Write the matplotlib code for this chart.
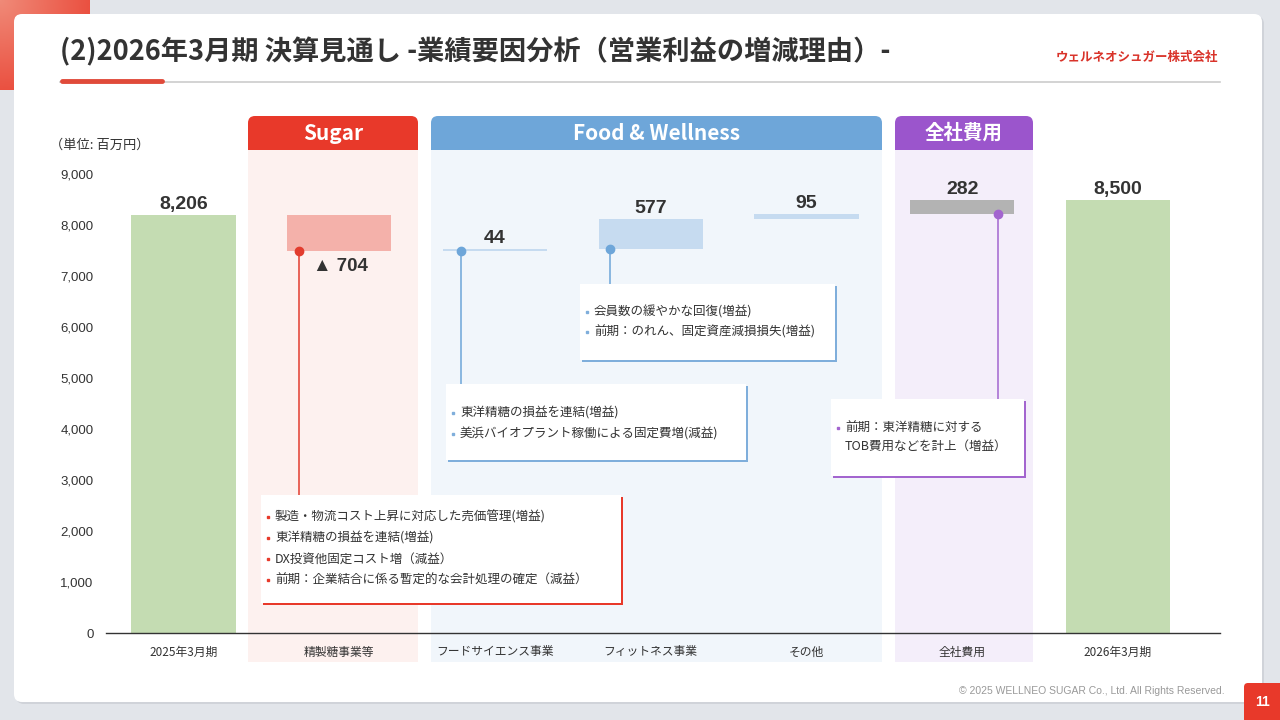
import matplotlib
matplotlib.use("Agg")
import matplotlib.pyplot as plt
import numpy as np
from matplotlib.patches import Rectangle, FancyBboxPatch

plt.rcParams["font.family"] = ["Liberation Sans", "Noto Sans CJK JP", "DejaVu Sans"]
JP = ["Noto Sans CJK JP", "DejaVu Sans"]

# --- data ---
categories = ["2025年3月期", "精製糖事業等", "フードサイエンス事業", "フィットネス事業",
              "その他", "全社費用", "2026年3月期"]
start_value = 8206
end_value = 8500
changes = [-704, 44, 577, 95, 282]
value_labels = ["8,206", "▲ 704", "44", "577", "95", "282", "8,500"]
bar_colors = ["#C4DCB2", "#F4B1AA", "#C6DBF0", "#C6DBF0", "#C6DBF0", "#B3B3B3", "#C4DCB2"]
y_ticks = list(range(0, 9001, 1000))

title = "(2)2026年3月期 決算見通し -業績要因分析（営業利益の増減理由）-"
company = "ウェルネオシュガー株式会社"

sugar_notes = ["製造・物流コスト上昇に対応した売価管理(増益)",
               "東洋精糖の損益を連結(増益)",
               "DX投資他固定コスト増（減益）",
               "前期：企業結合に係る暫定的な会計処理の確定（減益）"]
food_notes = ["東洋精糖の損益を連結(増益)",
              "美浜バイオプラント稼働による固定費増(減益)"]
fitness_notes = ["会員数の緩やかな回復(増益)",
                 "前期：のれん、固定資産減損損失(増益)"]
corp_notes = ["前期：東洋精糖に対する", "TOB費用などを計上（増益）"]

RED = "#E8392A"
BLUE = "#6EA6D9"
PURPLE = "#9B55CC"

# waterfall levels
levels = start_value + np.cumsum(changes)
prev = np.concatenate([[start_value], levels[:-1]])
bottoms = [0] + list(np.minimum(prev, levels)) + [0]
heights = [start_value] + list(np.abs(changes)) + [end_value]
tops = [b + h for b, h in zip(bottoms, heights)]

fig = plt.figure(figsize=(12.8, 7.2), dpi=100)
fig.patch.set_facecolor("#E2E5EA")

# background layer in pixel coordinates
bg = fig.add_axes([0, 0, 1, 1], zorder=0)
bg.set_xlim(0, 1280)
bg.set_ylim(720, 0)
bg.axis("off")

grad = np.linspace(0, 1, 90)
gx, gy = np.meshgrid(grad, grad)
bg.imshow(np.sqrt((gx ** 2 + gy ** 2) / 2), extent=(0, 90, 90, 0),
          cmap=matplotlib.colors.LinearSegmentedColormap.from_list("r", ["#F08A78", "#E8392A"]),
          aspect="auto", zorder=0)
bg.add_patch(FancyBboxPatch((16, 16), 1248, 688, boxstyle="round,pad=0,rounding_size=8",
                            fc="#D0D3D9", ec="none", zorder=1))
bg.add_patch(FancyBboxPatch((14, 14), 1248, 688, boxstyle="round,pad=0,rounding_size=8",
                            fc="white", ec="none", zorder=1))

bg.text(60, 52, title, family=JP, fontsize=19.6, fontweight="bold", color="#333333",
        va="center", ha="left")
bg.text(1218, 57, company, family=JP, fontsize=9, fontweight="bold", color="#D9332A",
        va="center", ha="right")
bg.plot([60, 1220], [82, 82], color="#CCCCCC", lw=1.2, zorder=2)
bg.plot([62, 162], [81, 81], color="#E04A3A", lw=3.5, solid_capstyle="round", zorder=3)

panels = [("Sugar", 248, 418, RED, "#FDF1EF", 15),
          ("Food & Wellness", 431, 882, BLUE, "#F1F6FB", 15),
          ("全社費用", 895, 1033, PURPLE, "#F4EEFA", 14)]
for name, x0, x1, hc, pc, fs in panels:
    bg.add_patch(Rectangle((x0, 150), x1 - x0, 512, fc=pc, ec="none", zorder=2))
    bg.add_patch(FancyBboxPatch((x0, 116), x1 - x0, 34, boxstyle="round,pad=0,rounding_size=7",
                                fc=hc, ec="none", zorder=2))
    bg.add_patch(Rectangle((x0, 134), x1 - x0, 16, fc=hc, ec="none", zorder=2))
    bg.text((x0 + x1) / 2, 133, name, family=JP, fontsize=fs, fontweight="bold",
            color="white", ha="center", va="center", zorder=3)

bg.text(50, 145, "（単位: 百万円）", family=JP, fontsize=9.5, color="#333333", va="center")
bg.text(1225, 691, "© 2025 WELLNEO SUGAR Co., Ltd. All Rights Reserved.", fontsize=7.5,
        color="#999999", ha="right", va="center")
bg.add_patch(FancyBboxPatch((1244, 683), 40, 40, boxstyle="round,pad=0,rounding_size=4",
                            fc=RED, ec="none", zorder=3))
bg.text(1262, 702, "11", fontsize=10, fontweight="bold", color="white",
        ha="center", va="center", zorder=4)

# chart layer
ax = fig.add_axes([106 / 1280, 1 - 633 / 720, (1220 - 106) / 1280, 458.5 / 720], zorder=1)
ax.set_facecolor("none")
x = np.arange(len(categories))
ax.bar(x, heights, bottom=bottoms, width=0.668, color=bar_colors, zorder=2)
ax.set_xlim(-0.4976, 6.655)
ax.set_ylim(0, 9000)
ax.set_yticks(y_ticks)
ax.set_yticklabels([f"{v:,}" for v in y_ticks], fontsize=9.5, color="#333333")
ax.set_xticks(x)
ax.set_xticklabels(categories, family=JP, fontsize=8.5, color="#333333")
ax.tick_params(axis="x", length=0, pad=9)
ax.tick_params(axis="y", length=0, pad=9)
for s in ["top", "right", "left"]:
    ax.spines[s].set_visible(False)
ax.spines["bottom"].set_color("#333333")
ax.spines["bottom"].set_linewidth(1.0)

for i, lab in enumerate(value_labels):
    if lab.startswith("▲"):
        ax.text(x[i] - 0.17, bottoms[i] - 150, lab, fontsize=13.5, fontweight="bold",
                family=["Liberation Sans", "Noto Sans CJK JP"], color="#333333",
                ha="left", va="top")
    else:
        ax.text(x[i], tops[i] + 40, lab, fontsize=14, fontweight="bold", color="#333333",
                ha="center", va="bottom")

# connectors from bars to note boxes
px2val = 9000 / 458.5
def yval(py):
    return (633 - py) * px2val

connectors = [(1, -0.26, bottoms[1], yval(495), "#E23C2E"),
              (2, -0.22, bottoms[2], yval(384), BLUE),
              (3, -0.26, bottoms[3], yval(284), BLUE),
              (5, 0.23, bottoms[5], yval(399), "#A365CF")]
for i, dx, y0, y1, c in connectors:
    ax.plot([x[i] + dx, x[i] + dx], [y0, y1], color=c, lw=1.1, zorder=3, clip_on=False)
    ax.plot(x[i] + dx, y0, "o", color=c, ms=6, zorder=4)

# note boxes in pixel coordinates
fg = fig.add_axes([0, 0, 1, 1], zorder=2)
fg.set_xlim(0, 1280)
fg.set_ylim(720, 0)
fg.axis("off")

boxes = [(261, 495, 621, 603, RED, sugar_notes, [517, 538, 559, 580], True),
         (446, 384, 746, 460, "#7FAEDB", food_notes, [413, 434], True),
         (580, 284, 835, 360, "#7FAEDB", fitness_notes, [312, 332], True),
         (831, 399, 1024, 476, "#A365CF", corp_notes, [428, 446], False)]
for x0, y0, x1, y1, c, notes, ys, every in boxes:
    fg.add_patch(Rectangle((x0 + 2, y0 + 2), x1 - x0, y1 - y0, fc=c, ec="none", zorder=1))
    fg.add_patch(Rectangle((x0, y0), x1 - x0, y1 - y0, fc="white", ec="none", zorder=2))
    for k, (line, yy) in enumerate(zip(notes, ys)):
        if every or k == 0:
            fg.plot(x0 + 7, yy, "s", color=c, ms=2, zorder=3)
        fg.text(x0 + 14, yy, line, family=JP, fontsize=9, color="#333333",
                va="center", ha="left", zorder=3)

fig.savefig("out.png", dpi=100, facecolor=fig.get_facecolor())
